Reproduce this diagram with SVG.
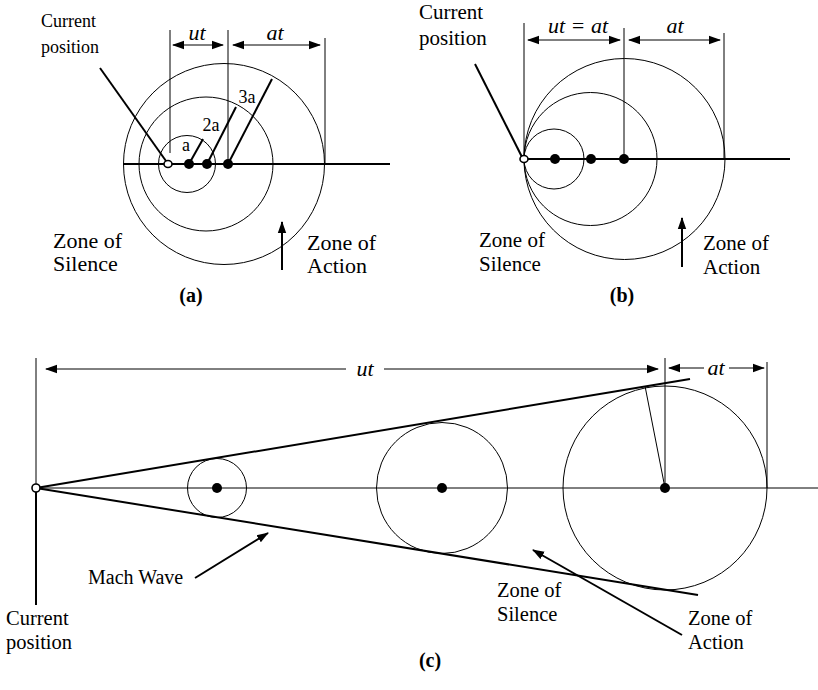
<svg xmlns="http://www.w3.org/2000/svg" width="818" height="690" viewBox="0 0 818 690">
<style>
text{font-family:"Liberation Serif","Times New Roman",serif;fill:#000}
.it{font-style:italic}
.bd{font-weight:bold}
.thin{stroke:#000;stroke-width:1;fill:none}
.thick{stroke:#000;stroke-width:2;fill:none}
.dot{fill:#000}
.open{fill:#fff;stroke:#000;stroke-width:1.6}
</style>
<defs>
<marker id="ah" markerWidth="12" markerHeight="10" refX="11" refY="5" orient="auto-start-reverse" markerUnits="userSpaceOnUse"><path d="M0,0.8 L12,5 L0,9.2 z" fill="#000"/></marker>
</defs>
<rect width="818" height="690" fill="#fff"/>

<!-- Panel (a) -->
<g id="panel-a">
 <g id="a-circles">
  <circle class="thin" cx="187" cy="164" r="28.5"/>
  <circle class="thin" cx="206" cy="164" r="67"/>
  <circle class="thin" cx="224" cy="164" r="100.5"/>
 </g>
 <g id="a-connectors">
  <line class="thick" x1="123" y1="164" x2="390" y2="164"/>
  <line class="thin" x1="170" y1="30" x2="170" y2="153"/>
  <line class="thin" x1="228" y1="30" x2="228" y2="164"/>
  <line class="thin" x1="325" y1="38" x2="325" y2="164"/>
  <line class="thin" x1="173" y1="45" x2="223" y2="45" stroke-width="1.4" marker-start="url(#ah)" marker-end="url(#ah)"/>
  <line class="thin" x1="233" y1="45" x2="320" y2="45" stroke-width="1.4" marker-start="url(#ah)" marker-end="url(#ah)"/>
  <line class="thick" x1="189" y1="164" x2="203" y2="139" stroke-width="1.6"/>
  <line class="thick" x1="207" y1="164" x2="236" y2="107" stroke-width="1.6"/>
  <line class="thick" x1="228" y1="164" x2="272" y2="79" stroke-width="1.6"/>
  <line class="thick" x1="100" y1="68" x2="166" y2="161" stroke-width="1.6"/>
  <line class="thick" x1="282" y1="270" x2="282" y2="222" stroke-width="1.6" marker-end="url(#ah)"/>
 </g>
 <g id="a-points">
  <circle class="dot" cx="189" cy="164" r="5"/>
  <circle class="dot" cx="207" cy="164" r="5"/>
  <circle class="dot" cx="228" cy="164" r="5"/>
  <ellipse class="open" cx="168" cy="164" rx="4" ry="3.5"/>
 </g>
 <g id="a-labels">
  <text x="41" y="27" font-size="18">Current</text>
  <text x="41" y="53" font-size="18">position</text>
  <text class="it" x="197" y="40" font-size="22" text-anchor="middle">ut</text>
  <text class="it" x="275" y="40" font-size="22" text-anchor="middle">at</text>
  <text x="186" y="151" font-size="18" text-anchor="middle">a</text>
  <text x="211" y="131" font-size="18" text-anchor="middle">2a</text>
  <text x="247" y="103" font-size="18" text-anchor="middle">3a</text>
  <text x="53" y="248" font-size="22">Zone of</text>
  <text x="53" y="271" font-size="22">Silence</text>
  <text x="307" y="250" font-size="22">Zone of</text>
  <text x="307" y="273" font-size="22">Action</text>
  <text class="bd" x="191" y="302" font-size="20" text-anchor="middle">(a)</text>
 </g>
</g>

<!-- Panel (b) -->
<g id="panel-b">
 <g id="b-circles">
  <circle class="thin" cx="554" cy="159" r="30"/>
  <circle class="thin" cx="590.5" cy="159" r="66.5"/>
  <circle class="thin" cx="624.5" cy="159" r="100.5"/>
 </g>
 <g id="b-connectors">
  <line class="thick" x1="527" y1="159" x2="790" y2="159"/>
  <line class="thin" x1="524" y1="23" x2="524" y2="159"/>
  <line class="thin" x1="624" y1="28" x2="624" y2="159" stroke-width="1.4"/>
  <line class="thin" x1="724" y1="33" x2="724" y2="159"/>
  <line class="thin" x1="528" y1="40" x2="620" y2="40" stroke-width="1.4" marker-start="url(#ah)" marker-end="url(#ah)"/>
  <line class="thin" x1="629" y1="40" x2="720" y2="40" stroke-width="1.4" marker-start="url(#ah)" marker-end="url(#ah)"/>
  <line class="thick" x1="475" y1="64" x2="522" y2="157" stroke-width="1.6"/>
  <line class="thick" x1="682" y1="267" x2="682" y2="218" stroke-width="1.6" marker-end="url(#ah)"/>
 </g>
 <g id="b-points">
  <circle class="dot" cx="555" cy="159" r="5"/>
  <circle class="dot" cx="591" cy="159" r="5"/>
  <circle class="dot" cx="624" cy="159" r="5"/>
  <ellipse class="open" cx="524" cy="159" rx="4" ry="3.5"/>
 </g>
 <g id="b-labels">
  <text x="419" y="19" font-size="21">Current</text>
  <text x="419" y="45" font-size="21">position</text>
  <text class="it" x="578" y="33" font-size="22" text-anchor="middle">ut = at</text>
  <text class="it" x="675" y="33" font-size="22" text-anchor="middle">at</text>
  <text x="479" y="247" font-size="21">Zone of</text>
  <text x="479" y="271" font-size="21">Silence</text>
  <text x="703" y="250" font-size="21">Zone of</text>
  <text x="703" y="274" font-size="21">Action</text>
  <text class="bd" x="622" y="302" font-size="20" text-anchor="middle">(b)</text>
 </g>
</g>

<!-- Panel (c) -->
<g id="panel-c">
 <g id="c-circles">
  <circle class="thin" cx="217" cy="488" r="29.5"/>
  <circle class="thin" cx="442" cy="488" r="65.5"/>
  <circle class="thin" cx="665" cy="488" r="102"/>
 </g>
 <g id="c-connectors">
  <line class="thin" x1="40" y1="488" x2="818" y2="488"/>
  <line class="thick" x1="36" y1="488" x2="690" y2="379"/>
  <line class="thick" x1="36" y1="488" x2="698" y2="595"/>
  <line class="thin" x1="36" y1="358" x2="36" y2="484"/>
  <line class="thick" x1="36" y1="492" x2="36" y2="605"/>
  <line class="thin" x1="665" y1="358" x2="665" y2="488"/>
  <line class="thin" x1="767" y1="362" x2="767" y2="488"/>
  <line class="thin" x1="665" y1="488" x2="645" y2="386"/>
  <line class="thin" x1="46" y1="369" x2="346" y2="369" stroke-width="1.4" marker-start="url(#ah)"/>
  <line class="thin" x1="384" y1="369" x2="658" y2="369" stroke-width="1.4" marker-end="url(#ah)"/>
  <line class="thin" x1="669" y1="368" x2="704" y2="368" stroke-width="1.4" marker-start="url(#ah)"/>
  <line class="thin" x1="729" y1="368" x2="764" y2="368" stroke-width="1.4" marker-end="url(#ah)"/>
  <line class="thick" x1="195" y1="578" x2="268" y2="533" stroke-width="1.6" marker-end="url(#ah)"/>
  <line class="thick" x1="682" y1="635" x2="533" y2="550" stroke-width="1.6" marker-end="url(#ah)"/>
 </g>
 <g id="c-points">
  <circle class="dot" cx="217" cy="488" r="5"/>
  <circle class="dot" cx="442" cy="488" r="5"/>
  <circle class="dot" cx="665" cy="488" r="5"/>
  <ellipse class="open" cx="36" cy="488" rx="4" ry="4"/>
 </g>
 <g id="c-labels">
  <text class="it" x="365" y="376" font-size="22" text-anchor="middle">ut</text>
  <text class="it" x="716" y="375" font-size="22" text-anchor="middle">at</text>
  <text x="88" y="584" font-size="20">Mach Wave</text>
  <text x="6" y="625" font-size="20.5">Current</text>
  <text x="6" y="649" font-size="20.5">position</text>
  <text x="497" y="597" font-size="20.5">Zone of</text>
  <text x="497" y="621" font-size="20.5">Silence</text>
  <text x="688" y="625" font-size="20.5">Zone of</text>
  <text x="688" y="649" font-size="20.5">Action</text>
  <text class="bd" x="430" y="667" font-size="20" text-anchor="middle">(c)</text>
 </g>
</g>
</svg>
